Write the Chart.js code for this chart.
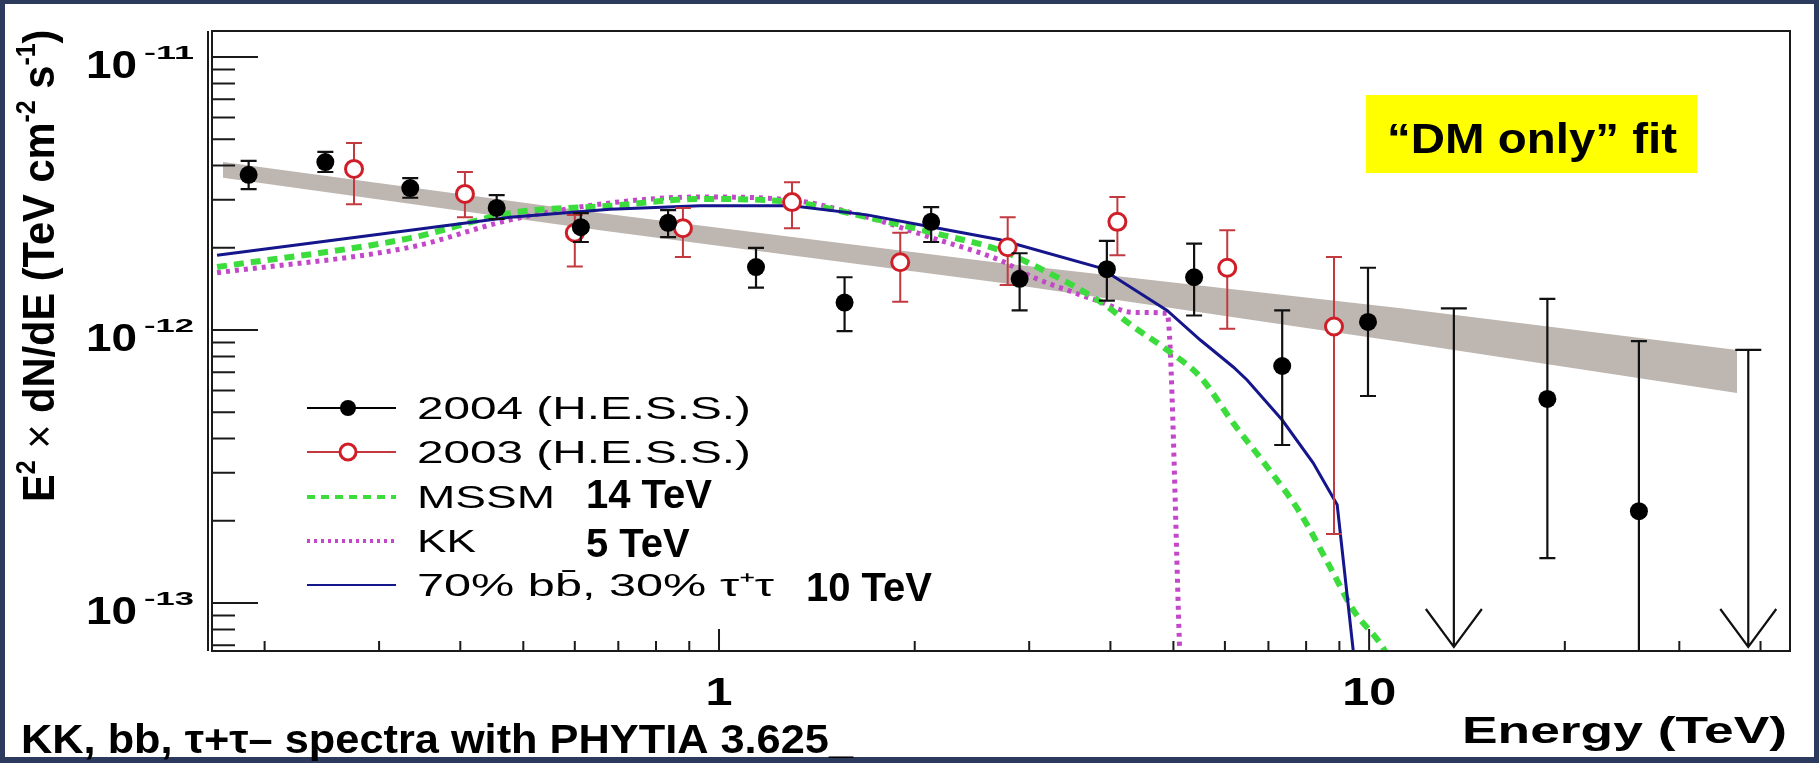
<!DOCTYPE html>
<html>
<head>
<meta charset="utf-8">
<script src="https://cdn.jsdelivr.net/npm/chart.js@4.4.1/dist/chart.umd.min.js"></script>
<style>
  html, body { margin: 0; padding: 0; background: #2c3a5e; }
  #frame { position: absolute; left: 0; top: 0; width: 1819px; height: 763px; background: #2c3a5e; }
  #paper { position: absolute; left: 5px; top: 4px; width: 1809px; height: 753px; background: #fff; }
  #c { position: absolute; left: 0; top: 0; }
</style>
</head>
<body>
<div id="frame">
  <div id="paper"></div>
  <canvas id="c" width="1819" height="763"></canvas>
</div>
<script>
// H.E.S.S. 2004 points: energy (TeV), E^2 dN/dE and error bar ends (TeV cm^-2 s^-1)
const hess2004E  = [0.189, 0.248, 0.335, 0.455, 0.613, 0.835, 1.14, 1.56, 2.12, 2.90, 3.95, 5.38, 7.35, 9.96, 18.8, 26.0];
const hess2004F  = [3.70e-12, 4.12e-12, 3.31e-12, 2.80e-12, 2.38e-12, 2.47e-12, 1.70e-12, 1.26e-12, 2.49e-12, 1.54e-12, 1.67e-12, 1.56e-12, 7.38e-13, 1.07e-12, 5.59e-13, 2.17e-13];
const hess2004Hi = [4.16e-12, 4.49e-12, 3.60e-12, 3.12e-12, 2.68e-12, 2.75e-12, 2.00e-12, 1.56e-12, 2.82e-12, 1.91e-12, 2.12e-12, 2.07e-12, 1.18e-12, 1.69e-12, 1.30e-12, 9.1e-13];
const hess2004Lo = [3.28e-12, 3.79e-12, 3.05e-12, 2.55e-12, 2.10e-12, 2.19e-12, 1.43e-12, 0.99e-12, 2.10e-12, 1.18e-12, 1.28e-12, 1.13e-12, 3.79e-13, 5.73e-13, 1.46e-13, 1e-14];

// 2004 upper limits (arrows)
const ulE = [13.5, 38.3];
const ulF = [1.20e-12, 8.45e-13];

// H.E.S.S. 2003 points
const hess2003E  = [0.2745, 0.4066, 0.600, 0.880, 1.295, 1.90, 2.78, 4.10, 6.05, 8.83];
const hess2003F  = [3.89e-12, 3.15e-12, 2.27e-12, 2.36e-12, 2.94e-12, 1.77e-12, 2.01e-12, 2.49e-12, 1.69e-12, 1.03e-12];
const hess2003Hi = [4.84e-12, 3.79e-12, 2.64e-12, 2.80e-12, 3.48e-12, 2.27e-12, 2.59e-12, 3.07e-12, 2.32e-12, 1.85e-12];
const hess2003Lo = [2.89e-12, 2.59e-12, 1.71e-12, 1.85e-12, 2.36e-12, 1.27e-12, 1.46e-12, 1.88e-12, 1.01e-12, 1.79e-13];

// model spectra
const mssmE = [0.169, 0.335, 0.477, 0.680, 0.935, 1.295, 1.689, 2.134, 2.706, 2.98, 3.857, 4.335, 4.889, 5.50, 6.18, 6.97, 7.83, 8.80, 9.45, 10.51, 11.0];
const mssmF = [1.70e-12, 2.17e-12, 2.68e-12, 2.85e-12, 3.02e-12, 2.94e-12, 2.59e-12, 2.27e-12, 1.96e-12, 1.77e-12, 1.27e-12, 1.03e-12, 8.45e-13, 6.73e-13, 4.56e-13, 3.15e-13, 2.14e-13, 1.29e-13, 9.43e-14, 6.84e-14, 5.5e-14];
const kkE = [0.169, 0.335, 0.477, 0.680, 0.935, 1.295, 1.689, 2.134, 2.706, 3.042, 3.431, 3.857, 4.335, 4.889, 5.12];
const kkF = [1.62e-12, 2.01e-12, 2.53e-12, 2.92e-12, 3.07e-12, 2.99e-12, 2.59e-12, 2.17e-12, 1.80e-12, 1.56e-12, 1.40e-12, 1.27e-12, 1.16e-12, 1.15e-12, 6.0e-14];
const bbE = [0.169, 0.335, 0.477, 0.680, 0.935, 1.295, 1.689, 2.134, 2.706, 3.857, 4.889, 5.50, 6.18, 6.49, 7.35, 8.20, 8.93, 9.50];
const bbF = [1.88e-12, 2.32e-12, 2.59e-12, 2.77e-12, 2.85e-12, 2.85e-12, 2.64e-12, 2.38e-12, 2.14e-12, 1.69e-12, 1.18e-12, 9.19e-13, 7.32e-13, 6.56e-13, 4.68e-13, 3.26e-13, 2.29e-13, 6.0e-14];

// power-law fit band
const bandE  = [0.1726, 0.656, 2.71, 11.2, 36.8];
const bandHi = [4.12e-12, 2.68e-12, 1.76e-12, 1.20e-12, 8.45e-13];
const bandLo = [3.61e-12, 2.32e-12, 1.49e-12, 9.04e-13, 5.88e-13];

// axes
const xMin = 0.166, xMax = 44.4;
const yMin = 6.67e-14, yMax = 1.245e-11;
const xMajorTicks = [1, 10];
const xTickLabels = ["1", "10"];
const xMinorTicks = [0.2, 0.3, 0.4, 0.5, 0.6, 0.7, 0.8, 0.9, 2, 3, 4, 5, 6, 7, 8, 9, 20, 30, 40];
const yMajorTicks = [1e-13, 1e-12, 1e-11];
const yTickExp = ["-13", "-12", "-11"];
const yMinorTicks = [7e-14, 8e-14, 9e-14, 2e-13, 3e-13, 4e-13, 5e-13, 6e-13, 7e-13, 8e-13, 9e-13,
                     2e-12, 3e-12, 4e-12, 5e-12, 6e-12, 7e-12, 8e-12, 9e-12];

const legendLabels = ["2004 (H.E.S.S.)", "2003 (H.E.S.S.)", "MSSM", "KK", "70% bb\u0304, 30% \u03c4\u207a\u03c4"];
const legendSets = [0, 1, 3, 4, 2];   // dataset shown on each legend row
const massLabels = ["14 TeV", "5 TeV", "10 TeV"];

const FONT = '"Liberation Sans", Arial, Helvetica, sans-serif';
const B = (s) => "bold " + s + "px " + FONT;
const R = (s) => s + "px " + FONT;

function pts(xs, ys) {
    return xs.map((x, i) => ({ x: x, y: ys[i] }));
}

// text made of parts, each part can be squeezed / stretched to a target width
function richText(c, parts, x, y, opts) {
    opts = opts || {};
    c.save();
    c.translate(x, y);
    if (opts.rot) c.rotate(opts.rot);
    c.scale(opts.sx || 1, opts.sy || 1);
    let total = 0;
    parts.forEach((p) => {
        c.font = p.f;
        p.w = c.measureText(p.t).width;
        p.tw = p.tw || p.w;
        total += p.tw + (p.gap || 0);
    });
    let cx = 0;
    if (opts.align === "right") cx = -total;
    if (opts.align === "center") cx = -total / 2;
    c.fillStyle = opts.color || "#000";
    c.textBaseline = "alphabetic";
    c.textAlign = "left";
    parts.forEach((p) => {
        cx += p.gap || 0;
        c.save();
        c.translate(cx, p.dy || 0);
        c.scale(p.tw / p.w, 1);
        c.font = p.f;
        c.fillText(p.t, 0, 0);
        c.restore();
        cx += p.tw;
    });
    c.restore();
}

function drawErrors(chart, ds) {
    const c = chart.ctx, a = chart.chartArea;
    const xs = chart.scales.x, ys = chart.scales.y;
    c.save();
    c.beginPath();
    c.rect(a.left, a.top, a.right - a.left, a.bottom - a.top);
    c.clip();
    c.strokeStyle = ds.errColor;
    c.lineWidth = ds.errWidth;
    ds.data.forEach((p, i) => {
        const x = xs.getPixelForValue(p.x);
        const y1 = ys.getPixelForValue(ds.errHi[i]);
        const y2 = ys.getPixelForValue(ds.errLo[i]);
        c.beginPath();
        c.moveTo(x, y1); c.lineTo(x, y2);
        c.moveTo(x - ds.capHalf, y1); c.lineTo(x + ds.capHalf, y1);
        c.moveTo(x - ds.capHalf, y2); c.lineTo(x + ds.capHalf, y2);
        c.stroke();
    });
    c.restore();
}

function drawUpperLimits(chart) {
    const c = chart.ctx, a = chart.chartArea;
    const xs = chart.scales.x, ys = chart.scales.y;
    c.save();
    c.strokeStyle = "#111";
    c.lineWidth = 2.2;
    ulE.forEach((e, i) => {
        const x = xs.getPixelForValue(e);
        const yTop = ys.getPixelForValue(ulF[i]);
        const yTip = a.bottom - 4;
        c.beginPath();
        c.moveTo(x, yTop); c.lineTo(x, yTip);
        c.moveTo(x - 13, yTop); c.lineTo(x + 13, yTop);
        c.moveTo(x - 28, yTip - 38); c.lineTo(x, yTip); c.lineTo(x + 28, yTip - 38);
        c.stroke();
    });
    c.restore();
}

const decor = {
    id: "decor",
    beforeDatasetDraw(chart, args) {
        const ds = chart.data.datasets[args.index];
        if (ds.errHi) drawErrors(chart, ds);
        if (args.index === 0) drawUpperLimits(chart);
    },
    afterDraw(chart) {
        const c = chart.ctx, a = chart.chartArea;
        const xs = chart.scales.x, ys = chart.scales.y;
        c.save();

        // frame
        c.strokeStyle = "#1a1a1a";
        c.lineWidth = 2;
        c.strokeRect(a.left, a.top, a.right - a.left, a.bottom - a.top);
        c.beginPath();
        c.moveTo(a.left - 4, a.top); c.lineTo(a.left - 4, a.bottom);
        c.stroke();

        // ticks, drawn inward
        c.lineWidth = 2;
        c.beginPath();
        yMajorTicks.forEach((v) => { const y = ys.getPixelForValue(v); c.moveTo(a.left, y); c.lineTo(a.left + 46, y); });
        yMinorTicks.forEach((v) => { const y = ys.getPixelForValue(v); c.moveTo(a.left, y); c.lineTo(a.left + 23, y); });
        xMajorTicks.forEach((v) => { const x = xs.getPixelForValue(v); c.moveTo(x, a.bottom); c.lineTo(x, a.bottom - 22); });
        xMinorTicks.forEach((v) => { const x = xs.getPixelForValue(v); c.moveTo(x, a.bottom); c.lineTo(x, a.bottom - 10); });
        c.stroke();

        // y tick labels 10^n
        yMajorTicks.forEach((v, i) => {
            const y = ys.getPixelForValue(v);
            richText(c, [
                { t: "10", f: B(38), tw: 51 },
                { t: yTickExp[i], f: B(19), tw: 50, dy: -19, gap: 7 }
            ], 194, y + 21, { align: "right" });
        });

        // x tick labels
        xMajorTicks.forEach((v, i) => {
            const x = xs.getPixelForValue(v);
            richText(c, [{ t: xTickLabels[i], f: B(38), tw: xTickLabels[i].length * 27 }], x, 705, { align: "center" });
        });

        // axis titles
        richText(c, [{ t: "Energy (TeV)", f: B(36), tw: 325 }], 1787, 743, { align: "right" });
        richText(c, [
            { t: "E", f: B(40) },
            { t: "2", f: B(24), dy: -17 },
            { t: " \u00d7 ", f: R(40) },
            { t: "dN/dE (TeV cm", f: B(40) },
            { t: "-2", f: B(24), dy: -17 },
            { t: " s", f: B(40) },
            { t: "-1", f: B(24), dy: -17 },
            { t: ")", f: B(40) }
        ], 54, 502, { rot: -Math.PI / 2, sx: 1.04, sy: 1.12 });

        // legend
        const rowY = [408, 452, 497, 541, 585];
        const rowW = [334, 334, 138, 59, 357];
        legendLabels.forEach((lab, i) => {
            const ds = chart.data.datasets[legendSets[i]];
            const y = rowY[i];
            c.save();
            c.strokeStyle = ds.legendLine || ds.borderColor;
            c.lineWidth = ds.legendWidth || 2;
            c.setLineDash(ds.legendDash || []);
            c.beginPath();
            c.moveTo(307, y); c.lineTo(396, y);
            c.stroke();
            c.setLineDash([]);
            if (ds.pointRadius > 0) {
                c.beginPath();
                c.arc(348, y, 8, 0, Math.PI * 2);
                c.fillStyle = ds.backgroundColor;
                c.fill();
                if (ds.borderWidth > 0) {
                    c.lineWidth = ds.borderWidth;
                    c.strokeStyle = ds.borderColor;
                    c.stroke();
                }
            }
            c.restore();
            richText(c, [{ t: lab, f: R(31), tw: rowW[i] }], 417, y + 11, {});
        });

        // DM masses
        richText(c, [{ t: massLabels[0], f: B(40) }], 586, 508, {});
        richText(c, [{ t: massLabels[1], f: B(40) }], 586, 557, {});
        richText(c, [{ t: massLabels[2], f: B(40) }], 806, 601, {});

        // "DM only" fit box
        c.fillStyle = "#ffff00";
        c.fillRect(1366, 95, 331, 78);
        richText(c, [{ t: "\u201cDM only\u201d fit", f: B(43), tw: 290 }], 1532, 153, { align: "center" });

        // caption
        richText(c, [{ t: "KK, bb, \u03c4+\u03c4\u2013 spectra with PHYTIA 3.625_", f: B(41), tw: 832 }], 21, 753, {});

        c.restore();
    }
};

const ctx = document.getElementById("c").getContext("2d");

new Chart(ctx, {
    type: "line",
    data: {
        datasets: [
            {
                label: legendLabels[0],
                data: pts(hess2004E, hess2004F),
                errHi: hess2004Hi, errLo: hess2004Lo,
                errColor: "#111", errWidth: 2.2, capHalf: 8,
                showLine: false,
                borderColor: "#000",
                backgroundColor: "#000",
                borderWidth: 0,
                pointRadius: 9,
                legendLine: "#000"
            },
            {
                label: legendLabels[1],
                data: pts(hess2003E, hess2003F),
                errHi: hess2003Hi, errLo: hess2003Lo,
                errColor: "#c23a40", errWidth: 2, capHalf: 8,
                showLine: false,
                borderColor: "#d01e28",
                backgroundColor: "#ffffff",
                borderWidth: 3,
                pointRadius: 8.5,
                legendLine: "#c23a40"
            },
            {
                label: legendLabels[4],
                data: pts(bbE, bbF),
                borderColor: "#15158c",
                borderWidth: 3,
                pointRadius: 0,
                tension: 0,
                legendWidth: 2
            },
            {
                label: legendLabels[2],
                data: pts(mssmE, mssmF),
                borderColor: "#3ddc3d",
                borderWidth: 6,
                borderDash: [10, 7],
                pointRadius: 0,
                cubicInterpolationMode: "monotone",
                legendWidth: 4,
                legendDash: [8, 6]
            },
            {
                label: legendLabels[3],
                data: pts(kkE, kkF),
                borderColor: "#c347c9",
                borderWidth: 5,
                borderDash: [4, 5],
                pointRadius: 0,
                cubicInterpolationMode: "monotone",
                legendWidth: 4,
                legendDash: [3, 4]
            },
            {
                label: "fit band",
                data: pts(bandE, bandHi),
                borderWidth: 0,
                borderColor: "rgba(0,0,0,0)",
                backgroundColor: "rgb(190,182,176)",
                pointRadius: 0,
                fill: "+1"
            },
            {
                label: "fit band low",
                data: pts(bandE, bandLo),
                borderWidth: 0,
                borderColor: "rgba(0,0,0,0)",
                pointRadius: 0,
                fill: false
            }
        ]
    },
    options: {
        responsive: false,
        devicePixelRatio: 1,
        animation: false,
        events: [],
        layout: { padding: { left: 212, right: 29, top: 31, bottom: 112 } },
        plugins: {
            legend: { display: false },
            tooltip: { enabled: false }
        },
        scales: {
            x: { type: "logarithmic", min: xMin, max: xMax, display: false },
            y: { type: "logarithmic", min: yMin, max: yMax, display: false }
        }
    },
    plugins: [decor]
});
</script>
</body>
</html>
